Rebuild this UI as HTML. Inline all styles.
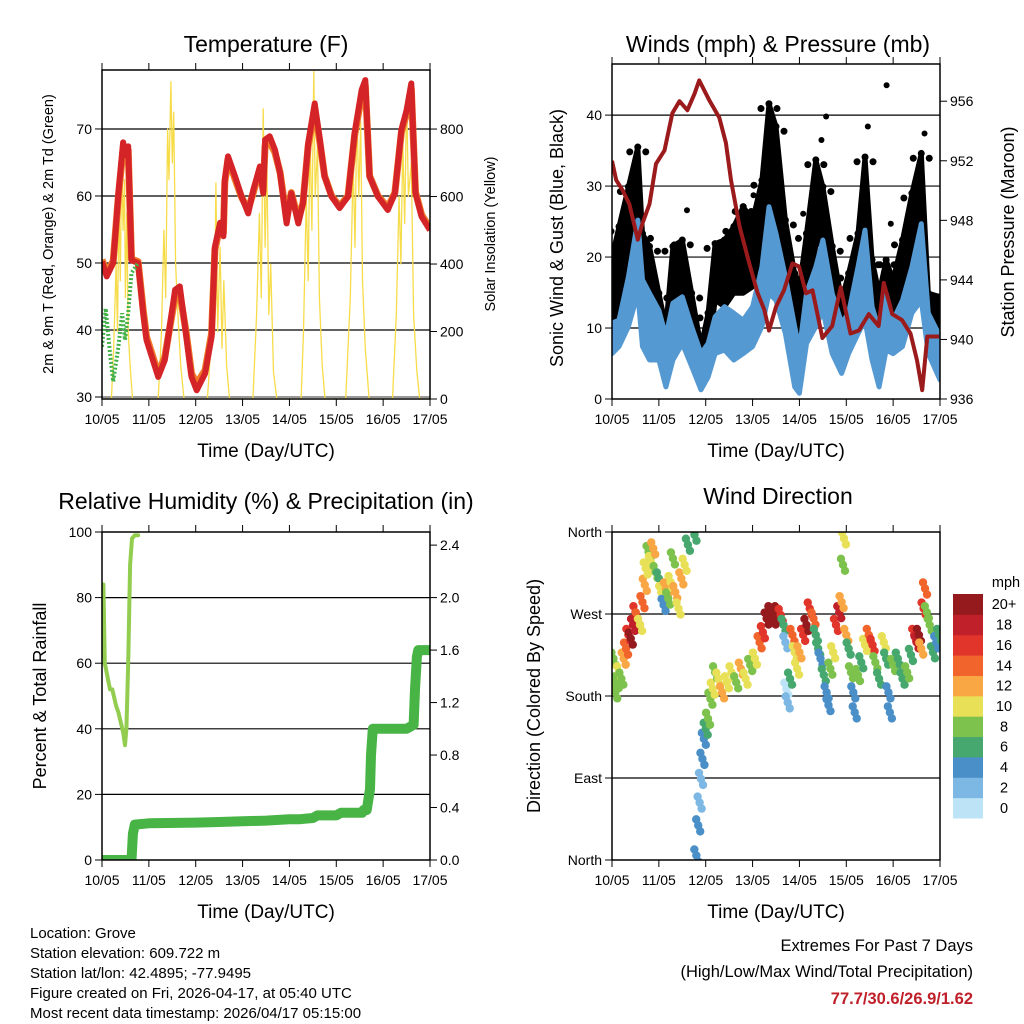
<!DOCTYPE html>
<html><head><meta charset="utf-8"><style>
html,body{margin:0;padding:0;background:#fff}
svg{display:block;font-family:"Liberation Sans",sans-serif}
</style></head><body>
<svg id="c" width="1024" height="1024" viewBox="0 0 1024 1024"></svg>
<script>
// ---- Temperature data (days since 10/05 00 UTC) ----
const tempT=[0,.1,.24,.35,.45,.53,.56,.63,.77,.88,.95,1.2,1.34,1.56,1.66,1.8,1.91,2.02,2.2,2.34,2.41,2.52,2.59,2.62,2.69,2.84,2.98,3.12,3.23,3.37,3.44,3.48,3.58,3.69,3.8,3.94,4.04,4.19,4.29,4.4,4.54,4.65,4.75,4.9,5.07,5.25,5.39,5.54,5.62,5.71,5.89,6.1,6.25,6.39,6.5,6.6,6.69,6.82,7.0];
const temp2m=[50.2,48,50,60.4,68,66,67.4,50.4,50,42.5,38.5,33,35.5,46,46.5,39,33,31,33.5,39,52.4,56,54,62.4,65.9,62.9,59.9,57.4,60.9,64.4,60.4,68.4,68.9,66.9,63.4,55.9,60.4,55.9,58.9,67.9,73.8,68.4,62.9,59.9,58.2,59.9,69.4,75.8,77.3,62.9,59.9,57.9,60.4,69.9,72.8,76.8,60.4,56.9,54.9];
const temp9m=[50.5,48.5,50.3,60,67,65.5,66.8,50.6,50.2,43,39,33.5,36,45,45.5,39.5,33.5,32,34,39.5,52,55.5,54.5,62,65.5,62.5,59.8,58,60.5,64,60.8,67.5,68,66.5,63.5,56.5,60.5,56.5,59,67.5,73,68,63,60,58.5,60,69,75,76.5,63,60,58.3,60.5,69.5,72.3,76,60.6,57.2,55.2];
const tdT=[0,.08,.17,.24,.35,.43,.49,.56,.63,.77];
const tdV=[37.5,43.2,36.5,32.3,37.5,42.5,38.5,42.5,48.5,50];
const solT=[0,.2,.25,.3,.33,.36,.39,.42,.45,.48,.5,.53,.56,.6,.65,1.2,1.27,1.32,1.36,1.4,1.43,1.47,1.5,1.53,1.57,1.62,1.68,1.75,2.25,2.32,2.36,2.4,2.43,2.47,2.52,2.56,2.6,2.66,2.72,3.22,3.3,3.36,3.4,3.44,3.48,3.52,3.56,3.6,3.66,3.73,4.25,4.3,4.36,4.4,4.44,4.48,4.52,4.55,4.6,4.64,4.7,4.76,5.2,5.3,5.36,5.4,5.44,5.48,5.52,5.56,5.62,5.7,6.2,6.28,6.34,6.38,6.42,6.46,6.5,6.54,6.6,6.65,6.72,6.78,7];
const solV=[0,0,150,400,200,600,350,720,500,650,300,550,200,100,0,0,200,500,300,800,650,940,700,850,400,250,100,0,0,150,400,250,640,200,450,150,350,100,0,0,250,550,300,860,450,700,250,400,80,0,0,200,600,350,800,500,970,600,750,300,100,0,0,300,700,450,860,600,820,350,150,0,0,250,600,400,760,520,900,600,700,250,80,0,0];
const tempTicks=[30,40,50,60,70];
const solTicks=[0,200,400,600,800];
const dayLabels=["10/05","11/05","12/05","13/05","14/05","15/05","16/05","17/05"];
// ---- Wind / pressure ----
const presT=[0,.09,.23,.37,.55,.65,.8,.94,1.12,1.29,1.44,1.61,1.76,1.86,2.07,2.29,2.43,2.54,2.72,2.93,3.11,3.25,3.35,3.5,3.67,3.85,3.99,4.14,4.28,4.49,4.7,4.88,5.09,5.27,5.48,5.69,5.8,5.98,6.19,6.37,6.51,6.62,6.73,6.98];
const presV=[952,950.7,950,949.1,946.7,947.8,949.1,951.8,952.7,955.2,956,955.4,956.5,957.4,956.1,954.9,953.2,950.7,947.6,945.1,943.1,942,940.6,942.2,943.3,945.1,944.9,943.1,943.3,940.1,940.9,943.5,940.4,940.6,941.7,940.9,943.8,941.7,941.3,940.4,938.6,936.6,940.2,940.2];
const wT=[0,.15,.35,.55,.65,.8,1.0,1.15,1.3,1.5,1.7,1.9,2.05,2.2,2.4,2.6,2.8,3.0,3.2,3.35,3.5,3.7,3.9,4.0,4.15,4.35,4.5,4.7,4.9,5.05,5.25,5.4,5.55,5.7,5.85,6.0,6.2,6.4,6.6,6.75,7.0];
const gustLo=[11.1,11.6,14.9,19.6,14.9,11.6,7.4,4.6,13.9,13.9,7.8,3.6,5.5,13.9,13,14.9,14.9,15.8,19.6,25.2,23.3,14.9,5.5,2.7,14.9,21.5,23.3,13.9,9.2,9.2,17.7,21.5,13.9,7.8,13.9,12.1,15.8,21.5,18.6,11.1,9.2];
const gustHi=[20,24.3,29.9,35.5,23.3,21.5,14.9,10.2,21.5,22.4,14.9,7.4,12.1,21.9,22.4,24.3,27.1,25.2,30.8,41.6,38.4,25.2,17.7,15.8,23.3,33.7,29.9,21.5,13.9,17.7,23.3,34.1,19.6,14.9,19.6,16.8,22.4,29,34.6,14.9,14.4];
const windLo=[6.4,7.4,10.2,14.9,7.4,5.5,5.5,1.7,5.5,7.8,4.6,1.3,3.1,6.4,6.9,5.5,6.4,7.4,10.2,14.9,13.9,9.2,1.7,0.8,7.8,10.2,12.5,6.4,3.6,6.4,9.2,11.1,5.5,1.7,6.9,6.4,7.4,12.1,13.9,6.4,2.7];
const windHi=[10.7,11.1,17.2,25.2,16.8,14.9,12.5,8.8,13.5,14.4,10.2,6.4,7.8,11.6,13,12.1,11.1,13,18.6,27.1,23.3,17.2,10.2,6.9,14.9,18.6,22.4,14.9,10.7,12.1,18.6,23.8,13,9.7,14.9,11.1,13.9,18.6,24.7,12.1,8.8];
const gustOutT=[5.86,4.57,5.46,6.67,4.47,1.6,3.02,4.08,5.95];
const gustOutV=[44.2,39.8,38.4,37.4,36.5,26.6,28.7,26.1,24.7];
const windTicks=[0,10,20,30,40];
const presTicks=[936,940,944,948,952,956];
// ---- RH / precip ----
const rhT=[0,.03,.06,.17,.22,.3,.35,.45,.49,.52,.56,.6,.64,.7,.77];
const rhV=[62,84,60,52,52,47,45,39,35,40,60,90,98,99,99];
const prT=[0,.63,.66,.7,1.0,2.0,2.5,3.0,3.5,4.0,4.2,4.5,4.6,5.0,5.1,5.55,5.58,5.65,5.72,5.74,5.78,6.5,6.65,6.68,6.72,6.75,7.0];
const prV=[0,0,0.2,0.27,0.28,0.285,0.29,0.295,0.3,0.31,0.31,0.32,0.34,0.34,0.36,0.36,0.38,0.38,0.54,0.8,1.0,1.0,1.03,1.3,1.55,1.6,1.6];
const rhTicks=[0,20,40,60,80,100];
const prTicks=["0.0","0.4","0.8","1.2","1.6","2.0","2.4"];
// ---- Wind direction ----
const wdT=[0,.03,.07,.1,.15,.2,.25,.3,.35,.4,.45,.5,.55,.6,.65,.7,.72,.78,.83,.88,.93,1.0,1.05,1.1,1.15,1.2,1.25,1.3,1.35,1.42,1.48,1.55,1.62,1.76,1.8,1.84,1.87,1.9,1.93,1.96,2.0,2.05,2.1,2.15,2.2,2.27,2.35,2.45,2.55,2.65,2.75,2.85,2.95,3.05,3.15,3.22,3.3,3.38,3.45,3.52,3.6,3.66,3.7,3.72,3.75,3.8,3.85,3.9,3.95,4.0,4.08,4.15,4.22,4.3,4.35,4.4,4.45,4.52,4.58,4.62,4.66,4.72,4.78,4.85,4.9,4.93,4.95,5.0,5.05,5.1,5.15,5.18,5.25,5.32,5.4,5.48,5.56,5.62,5.7,5.8,5.85,5.9,5.93,6.0,6.1,6.2,6.3,6.38,6.45,6.5,6.55,6.6,6.65,6.68,6.72,6.78,6.85,6.92,6.98];
const wdD=[192,221,184,195,206,199,221,232,247,243,258,272,265,258,283,302,320,338,327,342,316,309,294,280,298,287,305,331,294,276,309,324,346,357,5,38,63,89,111,133,144,155,177,188,206,199,184,195,206,195,210,199,214,221,239,250,265,272,265,272,269,258,239,188,173,199,247,228,210,228,247,258,276,265,247,232,221,203,184,170,210,228,258,272,283,324,353,247,232,206,184,162,203,217,236,247,236,217,199,239,221,184,162,214,221,199,206,225,247,239,247,232,276,298,272,258,228,239,247];
const wdS=[6,8,7,8,10,8,12,14,16,20,18,16,14,10,14,12,10,8,10,12,8,6,10,4,12,8,10,8,12,10,12,10,6,6,4,4,2,2,4,4,6,8,8,10,8,10,12,10,10,8,12,10,8,10,14,16,20,20,20,20,16,6,2,0,2,6,14,10,10,12,16,20,16,14,6,6,4,6,4,4,8,10,16,18,12,8,10,12,6,8,4,4,8,6,10,14,16,8,6,10,6,4,4,8,6,6,8,6,16,18,20,12,16,14,8,8,6,4,6];
const cbLabels=["0","2","4","6","8","10","12","14","16","18","20+"];
const cbColors=["#bde3f6","#7db8e4","#4b8fc8","#47a86f","#7dc24d","#e8e057","#f9a745","#f1642c","#e1352b","#c0202a","#951a1d"];
const dirTicks=[0,90,180,270,360];
const dirLabels=["North","East","South","West","North"];

const svg=document.getElementById('c');
const NS='http://www.w3.org/2000/svg';
function mk(tag,attrs,parent,name,txt){const e=document.createElementNS(NS,tag);for(const k in attrs)e.setAttribute(k,attrs[k]);


if(txt!==undefined)e.textContent=txt;(parent||svg).appendChild(e);return e;}
function lin(d0,d1,r0,r1){return v=>r0+(v-d0)/(d1-d0)*(r1-r0);}
function text(x,y,s,size,anchor,name,extra){const a={x:x,y:y,'font-size':size,'text-anchor':anchor||'middle',fill:'#000'};Object.assign(a,extra||{});return mk('text',a,svg,name,s);}
function vtext(x,y,s,size,name){return mk('text',{x:0,y:0,'font-size':size,'text-anchor':'middle',transform:`translate(${x},${y}) rotate(-90)`},svg,name,s);}
const defs=mk('defs',{},svg,'defs');
let clipN=0;
function panel(P){
  const id='clip'+(clipN++);
  const cp=mk('clipPath',{id:id},defs,'clip-path');
  mk('rect',{x:P.x0,y:P.y0,width:P.x1-P.x0,height:P.y1-P.y0},cp,'clip-rect');
  const g=mk('g',{'clip-path':`url(#${id})`},svg,P.name);
  const X=lin(0,7,P.x0,P.x1);
  P.grid.forEach(y=>mk('line',{x1:P.x0,x2:P.x1,y1:y,y2:y,stroke:'#000','stroke-width':1.2},g,'gridline'));
  for(let i=0;i<=7;i++){const x=X(i);
    mk('line',{x1:x,x2:x,y1:P.y1,y2:P.y1+7,stroke:'#000','stroke-width':1},svg,'x-tick');
    mk('line',{x1:x,x2:x,y1:P.y0,y2:P.y0-7,stroke:'#000','stroke-width':1},svg,'x-tick-top');
    text(x,P.y1+25,dayLabels[i],14,'middle','x-tick-label');}
  text((P.x0+P.x1)/2,P.y1+58,'Time (Day/UTC)',19,'middle','x-axis-title');
  return {g,X};
}
function frame(P){mk('rect',{x:P.x0,y:P.y0,width:P.x1-P.x0,height:P.y1-P.y0,fill:'none',stroke:'#000','stroke-width':1.5},svg,'plot-frame');}
function poly(g,xs,ys,X,Y,attrs,name){const pts=xs.map((t,i)=>X(t).toFixed(1)+','+Y(ys[i]).toFixed(1)).join(' ');
  const a=Object.assign({points:pts,fill:'none'},attrs);return mk('polyline',a,g,name);}
function band(g,xs,lo,hi,X,Y,fill,name){let pts=xs.map((t,i)=>X(t).toFixed(1)+','+Y(hi[i]).toFixed(1));
  for(let i=xs.length-1;i>=0;i--)pts.push(X(xs[i]).toFixed(1)+','+Y(lo[i]).toFixed(1));
  return mk('polygon',{points:pts.join(' '),fill:fill,stroke:fill,'stroke-width':5,'stroke-linejoin':'round'},g,name);}
function yticks(vals,Y,x,side,labels,size,name){vals.forEach((v,i)=>{const y=Y(v);
  mk('line',{x1:x,x2:x+(side<0?-7:7),y1:y,y2:y,stroke:'#000','stroke-width':1},svg,name+'-tick');
  text(x+(side<0?-10:10),y+5,labels?labels[i]:String(v),14,side<0?'end':'start',name+'-label');});}

// ---------- Panel 1 ----------
{const P={name:'temperature-panel',x0:102,x1:430,y0:70,y1:399};
 const TY=lin(30,78.8,397,70), SY=lin(0,975,399,70);
 P.grid=[TY(40),TY(50),TY(60),TY(70)];
 const {g,X}=panel(P);
 mk('line',{x1:P.x0,x2:P.x1,y1:397,y2:397,stroke:'#999','stroke-width':2},g,'zero-line');
 poly(g,solT,solV,X,SY,{stroke:'#f7dc4a','stroke-width':1.3,'stroke-linejoin':'round'},'solar-line');
 poly(g,tempT,temp9m,X,TY,{stroke:'#f07a2a','stroke-width':7,'stroke-linejoin':'round'},'temp-9m-line');
 poly(g,tempT,temp2m,X,TY,{stroke:'#d42428','stroke-width':6,'stroke-linejoin':'round'},'temp-2m-line');
 poly(g,tdT,tdV,X,TY,{stroke:'#44b04a','stroke-width':4,'stroke-dasharray':'2 2'},'dewpoint-line');
 frame(P);
 yticks(tempTicks,TY,P.x0,-1,null,14,'temp-axis');
 yticks(solTicks,SY,P.x1,1,null,14,'solar-axis');
 text(266,52,'Temperature (F)',23,'middle','temperature-title');
 vtext(53,234,'2m & 9m T (Red, Orange) & 2m Td (Green)',14.5,'temp-y-title');
 vtext(495,234,'Solar Insolation (Yellow)',14.5,'solar-y-title');}

// ---------- Panel 2 ----------
{const P={name:'wind-panel',x0:612,x1:940,y0:64,y1:399};
 const WY=lin(0,47.2,399,64), PY=lin(936,958.5,399,64);
 P.grid=[WY(10),WY(20),WY(30),WY(40)];
 const {g,X}=panel(P);
 band(g,wT,gustLo,gustHi,X,WY,'#000','gust-band');
 wT.forEach((t,i)=>{[-8,0,8].forEach(dx=>{
   const c=mk('circle',{cx:X(t)+dx,cy:WY(gustHi[i])+Math.abs(dx)*0.6,r:3.5,fill:'#000'},g,'gust-point');});});
 gustOutT.forEach((t,i)=>{const c=mk('circle',{cx:X(t),cy:WY(gustOutV[i]),r:3,fill:'#000'},g,'gust-outlier');});
 band(g,wT,windLo,windHi,X,WY,'#5599d2','wind-band');
 poly(g,presT,presV,X,PY,{stroke:'#9b1a1c','stroke-width':4,'stroke-linejoin':'round'},'pressure-line');
 frame(P);
 yticks(windTicks,WY,P.x0,-1,null,14,'wind-axis');
 yticks(presTicks,PY,P.x1,1,null,14,'pressure-axis');
 text(778,52,'Winds (mph) & Pressure (mb)',23,'middle','wind-title');
 vtext(563,238,'Sonic Wind & Gust (Blue, Black)',18,'wind-y-title');
 vtext(1014,232,'Station Pressure (Maroon)',18,'pressure-y-title');}

// ---------- Panel 3 ----------
{const P={name:'humidity-panel',x0:102,x1:430,y0:532,y1:860};
 const RY=lin(0,100,860,532), QY=lin(0,2.5,860,532);
 P.grid=[RY(20),RY(40),RY(60),RY(80)];
 const {g,X}=panel(P);
 poly(g,rhT,rhV,X,RY,{stroke:'#92cd4f','stroke-width':4,'stroke-linejoin':'round','stroke-linecap':'round'},'rh-line');
 poly(g,prT,prV,X,QY,{stroke:'#48b446','stroke-width':10,'stroke-linejoin':'round','stroke-linecap':'round'},'precip-line');
 frame(P);
 yticks(rhTicks,RY,P.x0,-1,null,14,'rh-axis');
 yticks(prTicks.map(Number),QY,P.x1,1,prTicks,14,'precip-axis');
 text(266,509,'Relative Humidity (%) & Precipitation (in)',23,'middle','humidity-title');
 vtext(46,696,'Percent & Total Rainfall',18,'rh-y-title');}

// ---------- Panel 4 ----------
{const P={name:'direction-panel',x0:612,x1:940,y0:532,y1:860};
 const DY=lin(0,360,860,532);
 P.grid=[DY(90),DY(180),DY(270)];
 const {g,X}=panel(P);
 const offs=[[-2,-6],[0,0],[2,6]];
 wdT.forEach((t,i)=>{const ci=Math.min(10,Math.round(wdS[i]/2));
   offs.forEach(o=>{
   const c=mk('circle',{cx:X(t)+o[0],cy:DY(wdD[i])+o[1],r:4.2,fill:cbColors[ci]},g,'direction-point');});});
 frame(P);
 yticks(dirTicks,DY,P.x0,-1,dirLabels,13,'direction-axis');
 text(778,504,'Wind Direction',23,'middle','direction-title');
 vtext(540,696,'Direction (Colored By Speed)',18,'direction-y-title');
 const bh=(818-594)/11;
 cbColors.forEach((c,i)=>{const y=818-(i+1)*bh;
   mk('rect',{x:953,y:y,width:30,height:bh+0.5,fill:c},svg,'colorbar-swatch');
   text(1004,y+bh/2+5,cbLabels[i],14.5,'middle','colorbar-label');});
 text(1006,587,'mph',14.5,'middle','colorbar-title');}

// footer
const info=["Location: Grove","Station elevation: 609.722 m","Station lat/lon: 42.4895; -77.9495","Figure created on Fri, 2026-04-17, at 05:40 UTC","Most recent data timestamp: 2026/04/17 05:15:00"];
info.forEach((s,i)=>text(30,938+i*20,s,15,'start','station-info-line'));
text(973,951,'Extremes For Past 7 Days',16.5,'end','extremes-title');
text(973,977,'(High/Low/Max Wind/Total Precipitation)',16.5,'end','extremes-subtitle');
text(973,1004,'77.7/30.6/26.9/1.62',16.5,'end','extremes-values',{fill:'#c0202a','font-weight':'bold'});
</script>
</body></html>
